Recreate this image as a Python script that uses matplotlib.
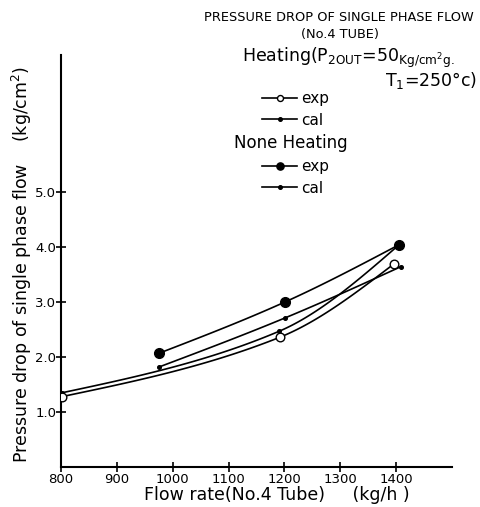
import numpy as np
import matplotlib
matplotlib.use("Agg")
import matplotlib.pyplot as plt
from matplotlib.lines import Line2D

# flow rate (kg/h) and pressure drop (kg/cm2)
heat_exp_x = [802, 1192, 1397]
heat_exp_y = [1.28, 2.36, 3.70]
heat_cal_x = [802, 1191, 1403]
heat_cal_y = [1.35, 2.47, 4.02]
none_exp_x = [976, 1201, 1405]
none_exp_y = [2.07, 3.00, 4.04]
none_cal_x = [976, 1201, 1408]
none_cal_y = [1.82, 2.71, 3.64]

xticks = [800, 900, 1000, 1100, 1200, 1300, 1400]
yticks = [1.0, 2.0, 3.0, 4.0, 5.0]


def smooth(x, y, n=60):
    # cubic hermite through the points, drawn like a french curve
    x = np.asarray(x, float)
    y = np.asarray(y, float)
    h = np.diff(x)
    s = np.diff(y) / h
    d = np.empty_like(y)
    for k in range(1, len(x) - 1):
        w1 = 2 * h[k] + h[k - 1]
        w2 = h[k] + 2 * h[k - 1]
        d[k] = (w1 + w2) / (w1 / s[k - 1] + w2 / s[k])
    d[0] = (3 * s[0] - d[1]) / 2
    d[-1] = (3 * s[-1] - d[-2]) / 2
    xs, ys = [], []
    for k in range(len(h)):
        t = np.linspace(0, 1, n)
        h00 = 2 * t**3 - 3 * t**2 + 1
        h10 = t**3 - 2 * t**2 + t
        h01 = -2 * t**3 + 3 * t**2
        h11 = t**3 - t**2
        xs.append(x[k] + t * h[k])
        ys.append(h00 * y[k] + h10 * h[k] * d[k] + h01 * y[k + 1] + h11 * h[k] * d[k + 1])
    return np.concatenate(xs), np.concatenate(ys)


plt.rcParams['font.family'] = ['DejaVu Sans']
fig = plt.figure(figsize=(4.8, 5.07), dpi=100)
ax = fig.add_axes([0.127, 0.0789, 0.8146, 0.8125])

lw = 1.2
for xx, yy in [(heat_exp_x, heat_exp_y), (heat_cal_x, heat_cal_y),
               (none_exp_x, none_exp_y), (none_cal_x, none_cal_y)]:
    sx, sy = smooth(xx, yy)
    ax.plot(sx, sy, color='black', lw=lw, zorder=2)

ax.plot(heat_cal_x, heat_cal_y, 'o', color='black', ms=2.6, zorder=3)
ax.plot(none_cal_x, none_cal_y, 'o', color='black', ms=2.6, zorder=3)
ax.plot(heat_exp_x, heat_exp_y, 'o', mfc='white', mec='black', mew=1.0, ms=6.2, zorder=4)
ax.plot(none_exp_x, none_exp_y, 'o', color='black', ms=7, zorder=4)

ax.set_xlim(800, 1500)
ax.set_ylim(0, 7.49)
ax.set_xticks(xticks)
ax.set_yticks(yticks)
ax.set_yticklabels(['%.1f' % v for v in yticks])
for side in ['top', 'right']:
    ax.spines[side].set_visible(False)
for side in ['left', 'bottom']:
    ax.spines[side].set_linewidth(1.5)
ax.tick_params(axis='both', direction='inout', length=7, width=1.2, labelsize=9.5)
ax.tick_params(axis='y', pad=0)
ax.tick_params(axis='x', pad=1)

fig.text(0.046, 0.479, 'Pressure drop of single phase flow    (kg/cm$^2$)',
         rotation=90, ha='center', va='center', fontsize=12.5)
fig.text(0.577, 1 - 500 / 507, 'Flow rate(No.4 Tube)     (kg/h )',
         ha='center', va='baseline', fontsize=12.5)

fig.text(0.706, 0.966, 'PRESSURE DROP OF SINGLE PHASE FLOW', ha='center', va='center', fontsize=9.3)
fig.text(0.708, 0.931, '(No.4 TUBE)', ha='center', va='center', fontsize=9.3)

fig.text(0.504, 1 - 62 / 507, r'Heating(P$_{\rm 2OUT}$=50$_{\rm Kg/cm^2g.}$',
         ha='left', va='baseline', fontsize=12.5)
fig.text(0.994, 1 - 86 / 507, r'T$_{\rm 1}$=250°c)', ha='right', va='baseline', fontsize=12.5)
fig.text(0.487, 0.718, 'None Heating', ha='left', va='center', fontsize=12)

h_exp = Line2D([], [], color='black', lw=lw, marker='o', mfc='white', mec='black', ms=4.3)
h_cal = Line2D([], [], color='black', lw=lw, marker='o', ms=2.6)
n_exp = Line2D([], [], color='black', lw=lw, marker='o', ms=5.2)
n_cal = Line2D([], [], color='black', lw=lw, marker='o', ms=2.6)

leg_kw = dict(loc='upper left', bbox_transform=fig.transFigure, frameon=False,
              fontsize=11, handlelength=2.3, handletextpad=0.25, labelspacing=0.44,
              borderpad=0, borderaxespad=0, numpoints=1)
leg1 = ax.legend([h_exp, h_cal], ['exp', 'cal'],
                 bbox_to_anchor=(0.546, 1 - 91 / 507), **leg_kw)
ax.add_artist(leg1)
ax.legend([n_exp, n_cal], ['exp', 'cal'],
          bbox_to_anchor=(0.546, 1 - 159 / 507), **leg_kw)

fig.savefig('out.png', dpi=100)
